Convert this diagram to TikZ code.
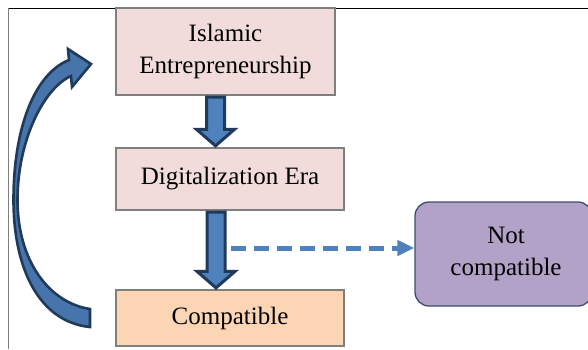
\documentclass[tikz,border=0pt]{standalone}
\usepackage{fontspec}
\setmainfont{Liberation Serif}
\usetikzlibrary{arrows.meta,calc}
\definecolor{pinkfill}{HTML}{F2DCDB}
\definecolor{peach}{HTML}{FCD5B5}
\definecolor{lilac}{HTML}{B3A2C7}
\definecolor{boxline}{HTML}{7F7F7F}
\definecolor{darkblue}{HTML}{1F3A5A}
\definecolor{midblue}{HTML}{4F81BD}
\definecolor{lilacline}{HTML}{3E4E6A}
\tikzset{
  box/.style={draw=boxline, line width=1.3pt, align=center, font=\fontsize{25}{32}\selectfont, inner sep=0pt},
  blockarrow/.style={fill=midblue, draw=darkblue, line width=3pt, line join=miter},
  dasharrow/.style={draw=midblue, line width=5pt, dash pattern=on 15pt off 8pt, -{Triangle[length=17pt,width=15pt]}}
}
\begin{document}
\begin{tikzpicture}[x=1pt,y=-1pt]
\useasboundingbox (0,0) rectangle (588,349);
% frame
\draw[black, line width=0.8pt] (8,8) -- (588,8);
\draw[boxline, line width=1pt] (8,8) -- (8,349);
% boxes
\node[box, fill=pinkfill, minimum width=219pt, minimum height=87pt] (isl) at (225.5,51.5) {Islamic\\Entrepreneurship};
\node[box, fill=pinkfill, minimum width=228pt, minimum height=62pt] (dig) at (230,179) {Digitalization Era};
\node[box, fill=peach, minimum width=228pt, minimum height=56pt] (comp) at (230,318) {Compatible};
\node[box, draw=lilacline, fill=lilac, rounded corners=14pt, minimum width=177pt, minimum height=104pt] (notc) at (503.5,254) {};
\node[font=\fontsize{25}{32}\selectfont, align=center] (notct) at (506,254) {Not\\compatible};
% block arrow 1
\coordinate (a1) at ($(isl.south)+(-10,0)$);
\coordinate (a1t) at ($(dig.north)+(-14.5,0)$);
\draw[blockarrow] ($(a1)+(-9,1.5)$) -- ($(a1)+(9,1.5)$) -- ($(a1t)+(9,-18)$) -- ($(a1t)+(19,-18)$) -- ($(a1t)+(0,-1.5)$) -- ($(a1t)+(-19,-18)$) -- ($(a1t)+(-9,-18)$) -- cycle;
% block arrow 2
\coordinate (a2) at ($(dig.south)+(-14,0)$);
\coordinate (a2t) at ($(comp.north)+(-14,0)$);
\draw[blockarrow] ($(a2)+(-9,1.5)$) -- ($(a2)+(9,1.5)$) -- ($(a2t)+(9,-18)$) -- ($(a2t)+(19,-18)$) -- ($(a2t)+(0,-1.5)$) -- ($(a2t)+(-19,-18)$) -- ($(a2t)+(-9,-18)$) -- cycle;
% dashed arrow
\coordinate (ds) at (231,248);
\draw[dasharrow] (ds) -- (notc.west |- ds);
% curved arrow
\draw[fill=midblue!90!black, draw=darkblue, line width=2.6pt, line join=miter]
  (90,327) .. controls (40,322) and (13.5,270) .. (13.5,200)
  .. controls (13.5,125) and (36,73) .. (69,60)
  -- (68,49) -- (91,64) -- (72,87) -- (71,76)
  .. controls (44,88) and (17.5,140) .. (17.5,200)
  .. controls (17.5,262) and (50,303) .. (90,309) -- cycle;
\end{tikzpicture}
\end{document}
